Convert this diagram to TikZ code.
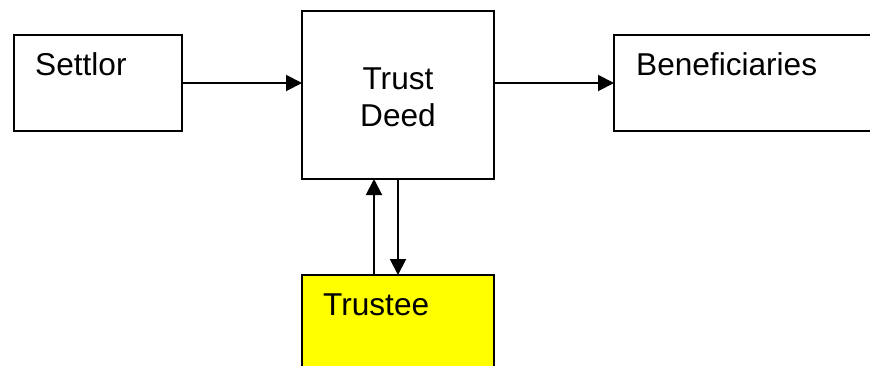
\documentclass[tikz,border=0pt]{standalone}
\usepackage{fontspec}
\setmainfont{Liberation Sans}
\usetikzlibrary{arrows.meta}
\definecolor{trusteeyellow}{RGB}{255,255,0}
\begin{document}
\begin{tikzpicture}[x=1pt,y=-1pt,
  box/.style={draw=black,line width=2pt,inner sep=0pt,outer sep=0pt},
  lbl/.style={inner sep=0pt,anchor=base west,font=\fontsize{31.6}{37}\selectfont},
  clbl/.style={inner sep=0pt,anchor=base,font=\fontsize{31.6}{37}\selectfont},
  conn/.style={line width=2pt,-{Triangle[length=16pt,width=16pt]}}]
\useasboundingbox (0,0) rectangle (870,365);
\clip (0,0) rectangle (870,365);
\fill[white] (0,0) rectangle (870,365);
% boxes
\draw[box] (14,35) rectangle (182,131);
\coordinate (settlorE) at (182,83);
\draw[box] (302,11) rectangle (494,179);
\coordinate (deedW) at (302,83);
\coordinate (deedE) at (494,83);
\coordinate (deedS1) at (374,179);
\coordinate (deedS2) at (398,179);
\draw[box] (614,35) rectangle (880,131);
\coordinate (benW) at (614,83);
\draw[box,fill=trusteeyellow] (302,275) rectangle (494,380);
\coordinate (trusteeN1) at (374,275);
\coordinate (trusteeN2) at (398,275);
% texts
\node[lbl] (tSettlor) at (35,75) {Settlor};
\node[clbl] (tTrust) at (398,89) {Trust};
\node[clbl] (tDeed) at (398,126) {Deed};
\node[lbl] (tBen) at (636,75) {Beneficiaries};
\node[lbl] (tTrustee) at (323,315) {Trustee};
% connectors
\draw[conn] (settlorE) -- (deedW);
\draw[conn] (deedE) -- (benW);
\draw[conn] (trusteeN1) -- (deedS1);
\draw[conn] (deedS2) -- (trusteeN2);
\end{tikzpicture}
\end{document}
